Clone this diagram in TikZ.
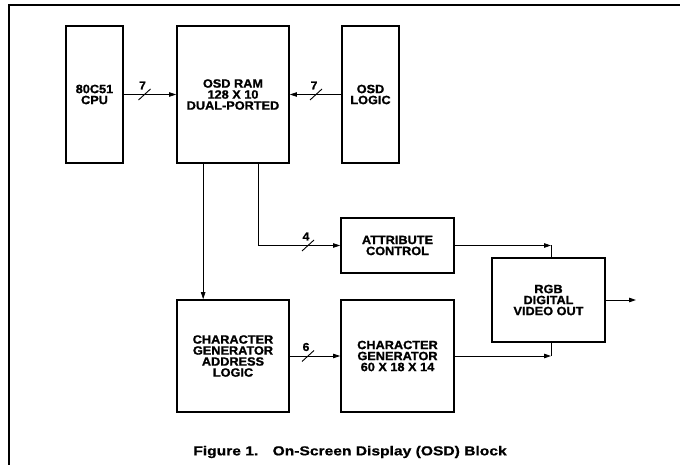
\documentclass[tikz,border=0pt]{standalone}
\usepackage{fontspec}
\setmainfont{Liberation Sans}
\newfontfamily\boxfont[FakeStretch=1.06, BoldFeatures={FakeBold=1.2}]{Liberation Sans}
\newfontfamily\capfont[FakeStretch=1.2, BoldFeatures={FakeBold=0.8}]{Liberation Sans}
\usetikzlibrary{arrows.meta}
\tikzset{
  blk/.style={draw, line width=1.7pt, align=center, inner sep=0pt,
    font=\boxfont\bfseries\fontsize{12}{11}\selectfont},
  wire/.style={line width=0.8pt},
  arr/.style={wire, -{Triangle[length=7pt,width=4.5pt]}},
  bus/.pic={\draw[line width=0.9pt] (-6,5.5) -- (6,-5.5);
    \node[font=\boxfont\bfseries\fontsize{11.5}{11.5}\selectfont, inner sep=0pt] at (-2,-9) {#1};},
}
\begin{document}
\begin{tikzpicture}[x=1pt,y=-1pt]
\useasboundingbox (0,0) rectangle (680,465);
\draw[line width=1.6pt] (9,465) -- (9,5) -- (680,5);
\node[blk, minimum width=57pt, minimum height=137pt] (cpu) at (94.5,94.5) {80C51\\CPU};
\node[blk, minimum width=112pt, minimum height=137pt] (ram) at (233,94.5) {OSD RAM\\128 X 10\\DUAL-PORTED};
\node[blk, minimum width=57pt, minimum height=137pt] (logic) at (370.5,94.5) {OSD\\LOGIC};
\node[blk, minimum width=113pt, minimum height=55pt] (attr) at (397.5,245.5) {ATTRIBUTE\\CONTROL};
\node[blk, minimum width=112pt, minimum height=112pt] (cgal) at (233,356) {CHARACTER\\GENERATOR\\ADDRESS\\LOGIC};
\node[blk, minimum width=113pt, minimum height=112pt] (cg) at (397.5,356) {CHARACTER\\GENERATOR\\60 X 18 X 14};
\node[blk, minimum width=113pt, minimum height=84pt] (rgb) at (548.5,300) {RGB\\DIGITAL\\VIDEO OUT};
\node[font=\capfont\bfseries\fontsize{13}{13}\selectfont] (cap) at (350,452) {Figure 1.\hspace{1.1em}On-Screen Display (OSD) Block};

\coordinate (ta) at ([xshift=2.5pt]rgb.north);
\coordinate (tb) at ([xshift=2.5pt]rgb.south);
\coordinate (out) at (636,300);

\draw[arr] (cpu) -- (ram);
\draw[arr] (logic) -- (ram);
\draw[arr] ([xshift=27pt]ram.south west) -- ([xshift=27pt]cgal.north west);
\draw[arr] ([xshift=82pt]ram.south west) |- (attr.west);
\draw[arr] (attr.east) -- (attr.east -| ta);
\draw[wire] (attr.east -| ta) -- (ta);
\draw[arr] (cgal) -- (cg);
\draw[arr] (cg.east) -- (cg.east -| tb);
\draw[wire] (cg.east -| tb) -- (tb);
\draw[arr] (rgb) -- (out);

\pic at (144.5,94.5) {bus=7};
\pic at (316,94.5) {bus=7};
\pic at (308,245.5) {bus=4};
\pic at (308,356) {bus=6};
\end{tikzpicture}
\end{document}
